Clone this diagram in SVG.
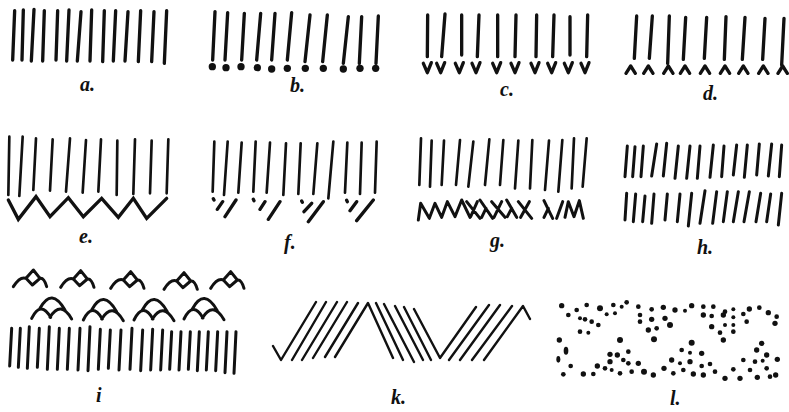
<svg xmlns="http://www.w3.org/2000/svg" width="789" height="412" viewBox="0 0 789 412">
<style>
.ln{stroke:#111;fill:none;stroke-linecap:round;stroke-linejoin:round}
.w10{stroke-width:10}
.w9{stroke-width:9}
.w8{stroke-width:8}
.zz{stroke:#111;fill:none;stroke-width:10;stroke-linejoin:miter;stroke-linecap:round}
.dot{fill:#111}
.lbl{font-family:"Liberation Serif","DejaVu Serif",serif;font-style:italic;font-weight:bold;font-size:20px;fill:#111}
</style>
<defs>
<path id="iTop" d="M0,50 Q20,18 38,25 L60,0 L80,25 Q92,22 100,50 M38,25 L57,45 L80,25"/>
<path id="iMid" d="M25,35 Q60,-30 100,40 M0,65 Q27,10 57,62 M55,62 Q87,10 120,67"/>
<path id="vee" d="M-12,190 L0,218 L12,188"/>
<path id="car" d="M-14,220 L0,198 L14,220"/>
</defs>
<rect width="789" height="412" fill="#fff"/>

<g id="panel-a" transform="scale(0.33333)" class="ln w10">
<path d="M38,180L44,32M66,180L70,30M94,183L102,28M128,183L133,32M168,180L173,32M200,183L207,30M232,183L243,35M270,183L275,30M308,185L313,32M340,183L347,32M375,183L384,35M415,185L422,32M455,185L462,35M493,190L500,32"/>
</g>
<text class="lbl" x="80" y="91">a.</text>

<g id="panel-b" transform="translate(200,0) scale(0.33333)">
<path class="ln w10" d="M38,180L45,35M75,180L83,38M125,180L133,40M170,180L182,40M215,180L225,40M262,180L275,38M315,185L330,45M368,185L382,45M430,190L445,50M478,190L485,50M528,190L535,48"/>
<g class="dot"><circle cx="37" cy="200" r="11"/><circle cx="78" cy="203" r="11"/><circle cx="123" cy="200" r="11"/><circle cx="172" cy="203" r="11"/><circle cx="215" cy="207" r="11"/><circle cx="262" cy="205" r="11"/><circle cx="316" cy="205" r="11"/><circle cx="370" cy="205" r="11"/><circle cx="430" cy="207" r="11"/><circle cx="480" cy="205" r="11"/><circle cx="527" cy="205" r="11"/></g>
</g>
<text class="lbl" x="290" y="92">b.</text>

<g id="panel-c" transform="translate(400,0) scale(0.33333)" class="ln w10">
<path d="M82,170L83,45M125,170L135,42M185,165L185,45M232,170L237,45M293,170L293,45M345,170L348,45M408,170L410,45M458,170L462,45M510,165L510,50M560,170L563,45"/>
<use href="#vee" x="82"/><use href="#vee" x="122"/><use href="#vee" x="178"/><use href="#vee" x="228"/><use href="#vee" x="290"/><use href="#vee" x="345"/><use href="#vee" x="405"/><use href="#vee" x="455"/><use href="#vee" x="505"/><use href="#vee" x="555"/>
</g>
<text class="lbl" x="500" y="96">c.</text>

<g id="panel-d" transform="translate(590,0) scale(0.33333)" class="ln w10">
<path d="M133,175L140,48M178,175L187,48M233,190L238,48M280,178L287,52M343,175L350,52M403,178L408,50M457,178L465,52M518,178L525,55M575,195L582,55"/>
<use href="#car" x="122"/><use href="#car" x="175"/><use href="#car" x="235"/><use href="#car" x="285"/><use href="#car" x="345"/><use href="#car" x="405"/><use href="#car" x="460"/><use href="#car" x="520"/><use href="#car" x="578"/>
</g>
<text class="lbl" x="703" y="100">d.</text>

<g id="panel-e" transform="translate(0,120) scale(0.33333)">
<path class="ln w8" d="M25,225L28,50M58,228L68,50M100,210L108,55M150,212L158,58M198,215L210,55M248,218L258,60M295,215L303,58M350,225L352,62M400,222L405,58M450,220L455,62M500,220L505,58"/>
<path class="zz" d="M25,240 L55,298 L108,230 L150,290 L205,233 L250,290 L305,235 L355,292 L400,235 L440,295 L500,235"/>
</g>
<text class="lbl" x="79" y="243">e.</text>

<g id="panel-f" transform="translate(200,120) scale(0.33333)" class="ln w8">
<path d="M38,215L43,65M72,225L83,65M115,218L125,68M160,215L167,65M200,218L210,68M250,225L258,70M295,222L302,70M340,222L352,70M385,235L400,65M435,218L442,68M480,222L485,68M525,218L530,65"/>
<path class="w10" d="M40,236L42,240M68,245L52,268M108,240L75,290M160,238L162,242M195,245L180,268M240,245L205,298M305,243L307,247M335,250L312,275M370,245L325,305M440,241L442,245M470,245L450,272M520,240L470,302"/>
</g>
<text class="lbl" x="284" y="249">f.</text>

<g id="panel-g" transform="translate(400,120) scale(0.33333)" class="ln w8">
<path d="M58,195L63,55M90,200L95,62M125,195L132,62M168,195L180,60M205,200L220,65M255,195L268,58M300,195L310,60M345,205L355,62M390,205L397,60M435,210L447,62M475,215L487,60M515,205L522,55M548,200L560,55"/>
<path class="w9" d="M55,300 L62,250 L88,295 L105,250 L125,292 L142,245 L165,290 L185,240 L210,292 M200,245 L240,295 M232,245 L212,290 M240,240 L278,295 M258,265 L245,292 M275,245 L315,292 M305,245 L282,292 M320,240 L350,292 M335,265 L322,290 M355,245 L395,295 M388,245 L362,292 M432,242 L458,295 M445,265 L432,292 M470,295 L488,245 M495,292 L505,245 L522,290 L538,242 L550,295"/>
</g>
<text class="lbl" x="490" y="247">g.</text>

<g id="panel-h" transform="translate(590,120) scale(0.33333)" class="ln w9">
<path d="M105,170L112,78M128,170L135,80M153,170L160,78M185,168L200,72M220,168L230,70M255,175L265,78M290,175L300,78M322,175L330,78M360,172L370,75M395,170L402,78M430,165L440,75M463,172L472,75M500,165L508,72M535,168L545,72M568,170L575,75"/>
<path d="M105,300L110,220M130,305L137,222M158,305L165,228M185,310L192,222M225,300L232,222M262,305L270,222M295,318L305,220M330,310L345,212M368,310L380,215M400,305L412,215M430,305L445,215M462,305L478,215M498,305L512,220M530,305L542,222M565,315L575,220"/>
</g>
<text class="lbl" x="697" y="254">h.</text>

<g id="panel-i" transform="translate(0,260) scale(0.33333)" class="ln w9">
<use href="#iTop" x="40" y="30"/><use href="#iTop" x="182" y="32"/><use href="#iTop" x="332" y="35"/><use href="#iTop" x="492" y="38"/><use href="#iTop" x="632" y="35"/>
<use href="#iMid" x="95" y="110"/><use href="#iMid" x="250" y="115"/><use href="#iMid" x="402" y="115"/><use href="#iMid" x="552" y="112"/>
<path d="M29,318L35,205M55,322L61,205M82,325L88,200M112,322L118,205M142,328L148,200M172,328L178,205M202,328L208,205M234,330L240,205M264,332L270,200M295,328L301,208M325,325L331,210M357,330L363,210M390,328L396,205M422,332L428,210M452,330L458,208M482,330L488,210M509,328L515,215M537,330L543,215M565,328L571,215M592,332L598,215M619,330L625,215M647,332L653,215M675,338L681,215M702,340L708,215"/>
</g>
<text class="lbl" x="96" y="402">i</text>

<g id="panel-k" class="ln" stroke-width="2.4">
<path d="M273,346L281,360L316,302M292,360L326,302M302,360L337,302M313,358L347,302M325,357L358,303M335,357L368,303L393,358M376,303L403,360M384,304L414,362M395,306L423,360M404,307L431,360M414,309L440,358L476,307M449,360L489,305M460,360L500,305M472,360L512,306M484,360L523,306L530,319"/>
</g>
<text class="lbl" x="391" y="404">k.</text>

<g id="panel-l" transform="translate(520,260) scale(0.33333)" class="dot">
<circle cx="125" cy="137" r="8"/><circle cx="170" cy="150" r="7"/><circle cx="200" cy="135" r="7"/><circle cx="240" cy="145" r="9"/><circle cx="280" cy="135" r="7"/><circle cx="305" cy="140" r="6"/><circle cx="320" cy="127" r="7"/><circle cx="355" cy="140" r="7"/><circle cx="395" cy="148" r="7"/><circle cx="430" cy="142" r="8"/><circle cx="465" cy="150" r="8"/><circle cx="495" cy="152" r="6"/><circle cx="515" cy="137" r="8"/><circle cx="550" cy="140" r="7"/><circle cx="580" cy="140" r="7"/><circle cx="615" cy="155" r="7"/><circle cx="640" cy="148" r="6"/><circle cx="688" cy="147" r="8"/><circle cx="718" cy="143" r="7"/><circle cx="745" cy="158" r="8"/><circle cx="770" cy="170" r="7"/>
<circle cx="145" cy="165" r="7"/><circle cx="180" cy="175" r="6"/><circle cx="195" cy="178" r="7"/><circle cx="215" cy="185" r="7"/><circle cx="235" cy="195" r="7"/><circle cx="260" cy="163" r="6"/><circle cx="285" cy="160" r="6"/><circle cx="360" cy="165" r="7"/><circle cx="395" cy="178" r="8"/><circle cx="435" cy="175" r="8"/><circle cx="550" cy="165" r="8"/><circle cx="575" cy="168" r="7"/><circle cx="610" cy="165" r="8"/><circle cx="640" cy="172" r="6"/><circle cx="670" cy="162" r="7"/><circle cx="680" cy="185" r="7"/><circle cx="765" cy="190" r="8"/>
<circle cx="180" cy="215" r="7"/><circle cx="205" cy="218" r="6"/><circle cx="360" cy="185" r="7"/><circle cx="385" cy="210" r="8"/><circle cx="410" cy="205" r="7"/><circle cx="450" cy="195" r="9"/><circle cx="575" cy="200" r="8"/><circle cx="600" cy="218" r="7"/><circle cx="615" cy="195" r="6"/><circle cx="640" cy="195" r="6"/><circle cx="640" cy="215" r="7"/>
<circle cx="118" cy="240" r="8"/><circle cx="300" cy="240" r="9"/><circle cx="402" cy="238" r="9"/><circle cx="515" cy="248" r="9"/><circle cx="610" cy="240" r="8"/><circle cx="725" cy="250" r="8"/>
<ellipse cx="138" cy="272" rx="7" ry="12"/><circle cx="270" cy="283" r="8"/><circle cx="292" cy="285" r="8"/><circle cx="325" cy="275" r="7"/><circle cx="485" cy="270" r="7"/><circle cx="510" cy="278" r="6"/><circle cx="545" cy="280" r="8"/><circle cx="710" cy="270" r="8"/><circle cx="740" cy="285" r="8"/>
<ellipse cx="115" cy="298" rx="6" ry="10"/><circle cx="270" cy="305" r="8"/><circle cx="310" cy="300" r="7"/><circle cx="325" cy="310" r="7"/><circle cx="355" cy="310" r="8"/><circle cx="455" cy="300" r="8"/><circle cx="480" cy="310" r="6"/><circle cx="510" cy="305" r="8"/><circle cx="545" cy="318" r="7"/><circle cx="570" cy="312" r="7"/><circle cx="670" cy="300" r="7"/><circle cx="705" cy="305" r="7"/><circle cx="728" cy="302" r="6"/><circle cx="772" cy="298" r="8"/>
<circle cx="152" cy="318" r="7"/><circle cx="232" cy="318" r="8"/><circle cx="255" cy="325" r="7"/><circle cx="275" cy="330" r="6"/><circle cx="300" cy="340" r="7"/><circle cx="335" cy="335" r="7"/><circle cx="372" cy="335" r="9"/><circle cx="400" cy="345" r="8"/><circle cx="432" cy="325" r="8"/><circle cx="460" cy="340" r="7"/><circle cx="490" cy="330" r="7"/><circle cx="520" cy="342" r="8"/><circle cx="550" cy="345" r="8"/><circle cx="585" cy="335" r="7"/><circle cx="615" cy="355" r="8"/><circle cx="640" cy="328" r="7"/><circle cx="660" cy="355" r="8"/><circle cx="690" cy="330" r="7"/><circle cx="712" cy="352" r="8"/><circle cx="740" cy="325" r="7"/><circle cx="750" cy="350" r="7"/><circle cx="767" cy="345" r="8"/><circle cx="130" cy="343" r="7"/><circle cx="190" cy="342" r="8"/><circle cx="220" cy="342" r="7"/>
</g>
<text class="lbl" x="670" y="405">l.</text>
</svg>
